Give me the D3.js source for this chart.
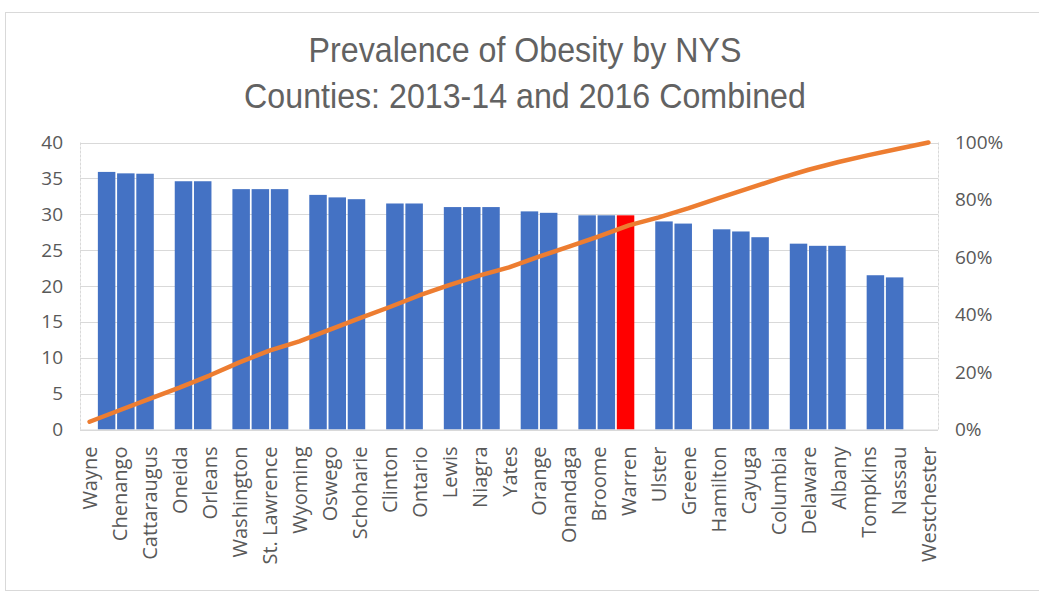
<!DOCTYPE html>
<html>
<head>
<meta charset="utf-8">
<script src="https://cdn.jsdelivr.net/npm/d3@7"></script>
<style>
  html, body { margin: 0; padding: 0; background: #ffffff; }
  svg { display: block; }
</style>
</head>
<body>
<svg id="chart" width="1039" height="595"></svg>
<script>
// County labels along the x axis (every other county is labelled)
const counties = ["Wayne", "Chenango", "Cattaraugus", "Oneida", "Orleans", "Washington",
  "St. Lawrence", "Wyoming", "Oswego", "Schoharie", "Clinton", "Ontario", "Lewis", "Niagra",
  "Yates", "Orange", "Onandaga", "Broome", "Warren", "Ulster", "Greene", "Hamilton", "Cayuga",
  "Columbia", "Delaware", "Albany", "Tompkins", "Nassau", "Westchester"];

// Obesity prevalence (%) per bar slot; null = empty slot
const obesityRates = [35.9, 35.7, 35.65, null, 34.6, 34.6, null, 33.5, 33.5, 33.5, null,
  32.7, 32.35, 32.1, null, 31.5, 31.5, null, 31.0, 31.0, 31.0, null, 30.4, 30.2, null,
  29.85, 29.85, 29.85, null, 29.0, 28.7, null, 27.9, 27.6, 26.8, null, 25.9, 25.6, 25.6,
  null, 21.5, 21.2, null, null];

// Slot drawn in red (Warren)
const highlightSlot = 27;

// Cumulative share of the total, one point per labelled county
const cumulativeShare = [0.027, 0.067, 0.107, 0.146, 0.188, 0.234, 0.275, 0.307, 0.347,
  0.387, 0.426, 0.467, 0.503, 0.536, 0.565, 0.602, 0.637, 0.673, 0.711, 0.739, 0.771,
  0.806, 0.840, 0.874, 0.905, 0.932, 0.956, 0.978, 1.0];

const leftTicks = [0, 5, 10, 15, 20, 25, 30, 35, 40];
const rightTicks = [0, 0.2, 0.4, 0.6, 0.8, 1.0];

const svg = d3.select("#chart");
const plot = { left: 80, right: 938, top: 142.5, bottom: 429.5 };
const gridColor = "#d9d9d9";
const textColor = "#595959";
const tickFont = "'Open Sans', 'DejaVu Sans', sans-serif";

// outer chart frame
svg.append("rect")
  .attr("x", 5.5).attr("y", 12.5)
  .attr("width", 1040).attr("height", 578)
  .attr("fill", "#fff").attr("stroke", gridColor).attr("stroke-width", 1);

// scales
const y = d3.scaleLinear().domain([0, 40]).range([plot.bottom, plot.top]);
const yPct = d3.scaleLinear().domain([0, 1]).range([plot.bottom, plot.top]);
const xSlot = d3.scaleBand()
  .domain(d3.range(obesityRates.length))
  .range([97, 97 + obesityRates.length * 19.22])
  .paddingInner(0.09).paddingOuter(0.045);
const xLabel = d3.scalePoint()
  .domain(counties)
  .range([plot.left, plot.right])
  .padding(0.32);

// gridlines
svg.append("g")
  .selectAll("line")
  .data(leftTicks)
  .join("line")
  .attr("x1", plot.left).attr("x2", plot.right)
  .attr("y1", d => Math.round(y(d)) + 0.5).attr("y2", d => Math.round(y(d)) + 0.5)
  .attr("stroke", gridColor).attr("stroke-width", 1);

// plot frame sides
svg.append("g").selectAll("line")
  .data([plot.left, plot.right])
  .join("line")
  .attr("x1", d => d + 0.5).attr("x2", d => d + 0.5)
  .attr("y1", plot.top).attr("y2", plot.bottom)
  .attr("stroke", gridColor).attr("stroke-width", 1)
  .attr("stroke-dasharray", "3,1");

// bars
svg.append("g")
  .selectAll("rect")
  .data(obesityRates.map((v, i) => ({ v, i })).filter(d => d.v != null))
  .join("rect")
  .attr("x", d => xSlot(d.i))
  .attr("width", xSlot.bandwidth())
  .attr("y", d => y(d.v))
  .attr("height", d => y(0) - y(d.v))
  .attr("fill", d => d.i === highlightSlot ? "#ff0000" : "#4472c4");

// cumulative line
const line = d3.line()
  .x((d, i) => xLabel(counties[i]))
  .y(d => yPct(d));
svg.append("path")
  .datum(cumulativeShare)
  .attr("d", line)
  .attr("fill", "none")
  .attr("stroke", "#ed7d31")
  .attr("stroke-width", 4.5)
  .attr("stroke-linejoin", "round")
  .attr("stroke-linecap", "round");

// left axis
const leftAxis = svg.append("g")
  .attr("transform", `translate(${plot.left},0)`)
  .call(d3.axisLeft(y).tickValues(leftTicks).tickSize(0).tickPadding(17));
leftAxis.select(".domain").remove();
leftAxis.selectAll("text")
  .attr("fill", textColor).style("font-family", tickFont).style("font-size", "19px");

// right axis
const rightAxis = svg.append("g")
  .attr("transform", `translate(${plot.right},0)`)
  .call(d3.axisRight(yPct).tickValues(rightTicks).tickFormat(d3.format(".0%")).tickSize(0).tickPadding(17));
rightAxis.select(".domain").remove();
rightAxis.selectAll("text")
  .attr("fill", textColor).style("font-family", tickFont).style("font-size", "19px");

// bottom axis with rotated county names
const bottomAxis = svg.append("g")
  .attr("transform", `translate(0,${plot.bottom})`)
  .call(d3.axisBottom(xLabel).tickSize(0).tickPadding(0));
bottomAxis.select(".domain")
  .attr("d", `M${plot.left},0.5H${plot.right}`)
  .attr("stroke", gridColor);
bottomAxis.selectAll("text")
  .attr("transform", "rotate(-90)")
  .attr("x", -17).attr("y", 0).attr("dy", "0.35em")
  .attr("text-anchor", "end")
  .attr("fill", textColor)
  .style("font-family", tickFont).style("font-size", "20px");

// title, horizontally condensed
const title = svg.append("g")
  .attr("transform", "translate(525,0) scale(0.92,1)")
  .append("text")
  .attr("text-anchor", "middle")
  .attr("fill", "#626262")
  .style("font-family", "'Liberation Sans Narrow', 'Liberation Sans', sans-serif")
  .style("font-size", "35px");
title.append("tspan").attr("x", 0).attr("y", 62).text("Prevalence of Obesity by NYS");
title.append("tspan").attr("x", 0).attr("y", 108).text("Counties: 2013-14 and 2016 Combined");
</script>
</body>
</html>
